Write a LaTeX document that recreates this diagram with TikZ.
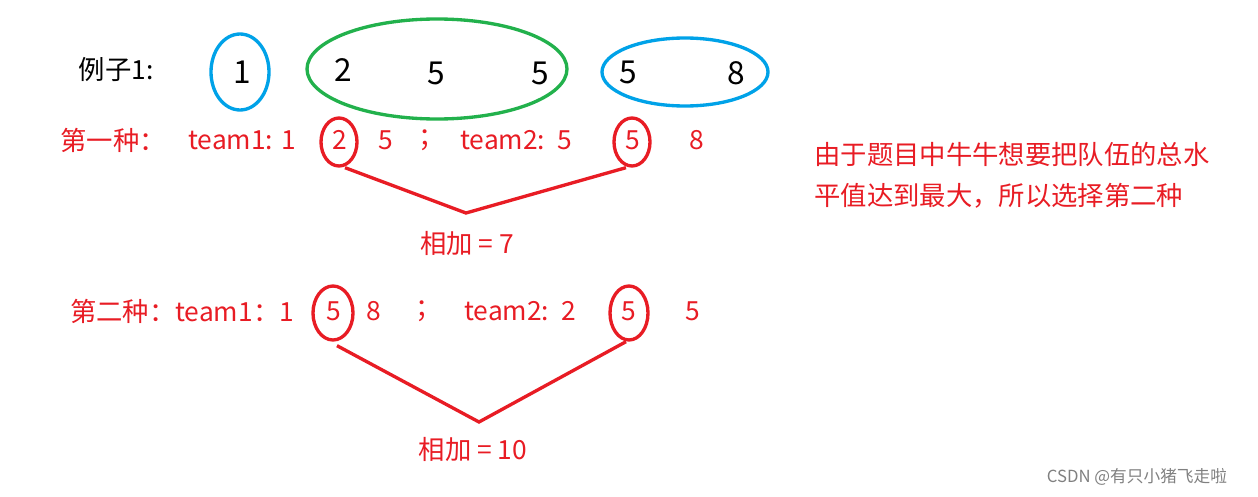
\documentclass[tikz,border=0pt]{standalone}
\usepackage{fontspec}
\setmainfont{Noto Sans CJK SC}
\usetikzlibrary{positioning,calc,shapes.geometric}
\definecolor{hred}{RGB}{232,28,36}
\definecolor{hblue}{RGB}{0,162,232}
\definecolor{hgreen}{RGB}{34,177,76}
\tikzset{
  red txt/.style={text=hred, font=\fontsize{15}{17}\selectfont, inner sep=0pt},
  blk txt/.style={font=\fontsize{18}{20}\selectfont, inner sep=0pt},
  ring/.style={ellipse, draw, line width=1.9pt, inner sep=0pt},
  link/.style={hred, line width=1.9pt}
}
\begin{document}
\begin{tikzpicture}[x=0.02cm, y=-0.02cm]
            \useasboundingbox (0,0) rectangle (1258,497);
            % example row
            \node[blk txt, font=\fontsize{15}{17}\selectfont] (ex) at (116,70) {例子1:};
            \node[ring, hblue, minimum width=58*0.02cm, minimum height=76*0.02cm] (b1) at (240,72) {};
            \node[blk txt] (n1) at (242,72) {1};
            \node[ring, hgreen, minimum width=260*0.02cm, minimum height=100*0.02cm] (g1) at (437,69) {};
            \node[blk txt] (n2) at (343,70) {2};
            \node[blk txt] (n3) at (436,73) {5};
            \node[blk txt] (n4) at (540,73) {5};
            \node[ring, hblue, minimum width=166*0.02cm, minimum height=68*0.02cm] (b2) at (685,72) {};
            \node[blk txt] (n5) at (628,72) {5};
            \node[blk txt] (n6) at (736,73) {8};

            % first way
            \node[red txt] (w1) at (113,140) {第一种：};
            \node[red txt] (t1a) at (242,140) {team1: 1};
            \node[ring, hred, minimum width=36*0.02cm, minimum height=48*0.02cm] (r1a) at (339,142) {};
            \node[red txt] (a2) at (340,140) {2};
            \node[red txt] (a5) at (386,140) {5};
            \node[red txt] (as) at (432,140) {；};
            \node[red txt] (t1b) at (516,140) {team2:\ \ 5};
            \node[ring, hred, minimum width=36*0.02cm, minimum height=48*0.02cm] (r1b) at (632,142) {};
            \node[red txt] (b5) at (633,140) {5};
            \node[red txt] (b8) at (697,140) {8};
            \coordinate (v1) at (466,213);
            \draw[link] ($(r1a.south)+(6,0)$) -- (v1) -- ($(r1b.south)+(-6,0)$);
            \node[red txt] (sum1) at (467,243) {相加 = 7};

            % note
            \node[red txt, anchor=west] (note1) at (814,154) {由于题目中牛牛想要把队伍的总水};
            \node[red txt, anchor=west] (note2) at (814,196) {平值达到最大，所以选择第二种};

            % second way
            \node[red txt] (w2) at (182,311) {第二种：team1：1};
            \node[ring, hred, minimum width=40*0.02cm, minimum height=54*0.02cm] (r2a) at (333,313) {};
            \node[red txt] (c5) at (334,311) {5};
            \node[red txt] (c8) at (374,311) {8};
            \node[red txt] (cs) at (429,311) {；};
            \node[red txt] (t2b) at (520,311) {team2:\ \ 2};
            \node[ring, hred, minimum width=38*0.02cm, minimum height=54*0.02cm] (r2b) at (629,313) {};
            \node[red txt] (d5) at (629,311) {5};
            \node[red txt] (d5b) at (693,311) {5};
            \coordinate (v2) at (479,422);
            \draw[link] ($(r2a.south)+(4,4)$) -- (v2) -- ($(r2b.south)+(-3,0)$);
            \node[red txt] (sum2) at (473,449) {相加 = 10};

            % watermark
            \node[text=gray, font=\fontsize{9.5}{11}\selectfont] (wm) at (1137,477) {CSDN @有只小猪飞走啦};
\end{tikzpicture}
\end{document}
